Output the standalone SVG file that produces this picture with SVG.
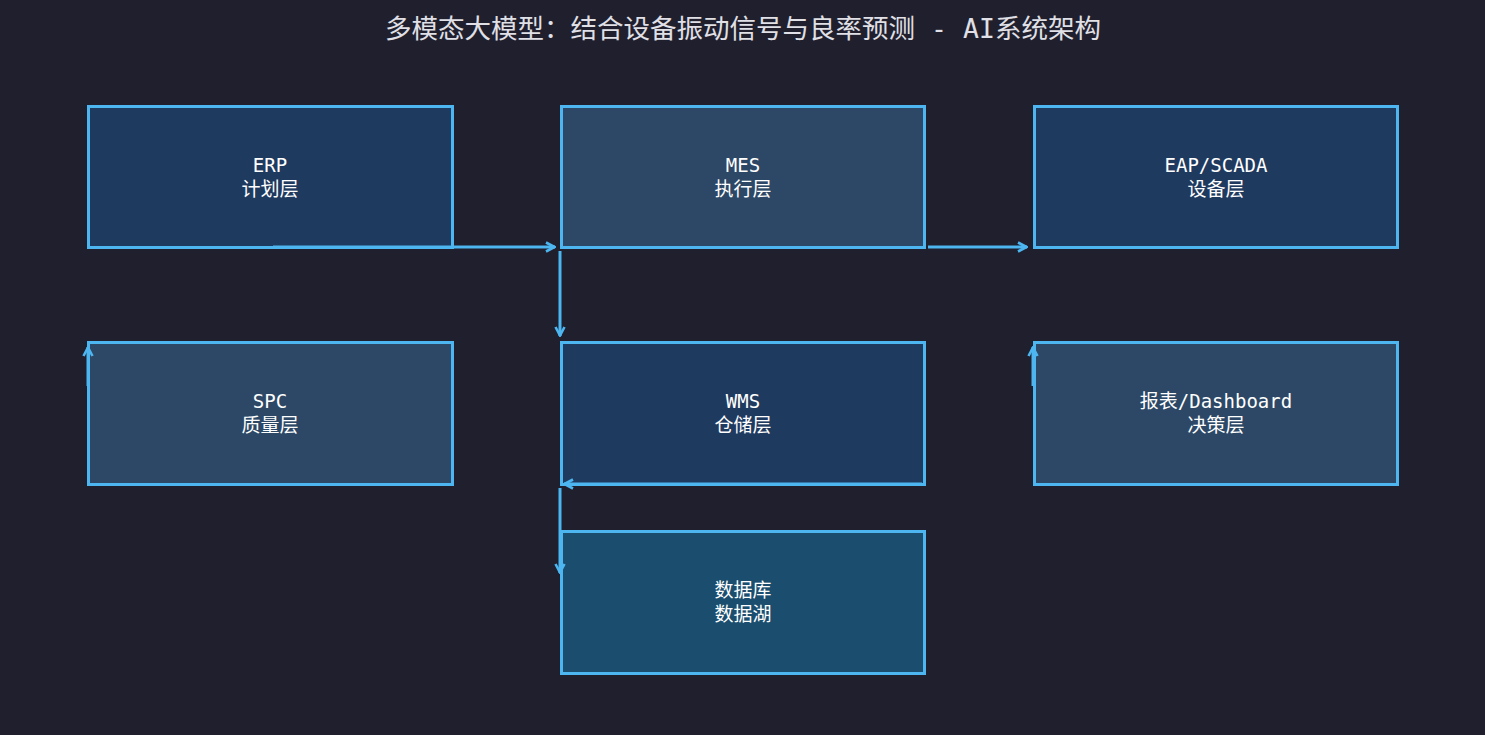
<svg xmlns="http://www.w3.org/2000/svg" width="1485" height="735" viewBox="0 0 1485 735">
<defs>
<marker id="arr" viewBox="0 0 12 12" refX="11" refY="6" markerWidth="12" markerHeight="12" markerUnits="userSpaceOnUse" orient="auto">
<path d="M2,1.5 L10.5,6 L2,10.5" fill="none" stroke="#4db6f0" stroke-width="2.6"/>
</marker>
</defs>
<style>
.box{stroke:#4db6f0;stroke-width:3}
.t{font-family:"DejaVu Sans Mono","Noto Sans CJK SC",monospace;font-size:19px;fill:#ffffff;text-anchor:middle}
.title{font-family:"DejaVu Sans Mono","Noto Sans CJK SC",monospace;font-size:26.5px;fill:#e0e0e6;text-anchor:middle}
.e{fill:none;stroke:#4db6f0;stroke-width:3;marker-end:url(#arr)}
</style>
<rect width="1485" height="735" fill="#1f1f2e"/>
<text class="title" x="743" y="38">多模态大模型：结合设备振动信号与良率预测 - AI系统架构</text>
<g id="erp"><rect class="box" x="88.5" y="106.5" width="364" height="141" fill="#1f3a5f"/><text class="t" x="270" y="172">ERP</text><text class="t" x="270" y="196">计划层</text></g>
<g id="mes"><rect class="box" x="561.5" y="106.5" width="363" height="141" fill="#2c4866"/><text class="t" x="743" y="172">MES</text><text class="t" x="743" y="196">执行层</text></g>
<g id="eap"><rect class="box" x="1034.5" y="106.5" width="363" height="141" fill="#1f3a5f"/><text class="t" x="1216" y="172">EAP/SCADA</text><text class="t" x="1216" y="196">设备层</text></g>
<g id="spc"><rect class="box" x="88.5" y="342.5" width="364" height="142" fill="#2c4866"/><text class="t" x="270" y="408">SPC</text><text class="t" x="270" y="432">质量层</text></g>
<g id="wms"><rect class="box" x="561.5" y="342.5" width="363" height="142" fill="#1f3a5f"/><text class="t" x="743" y="408">WMS</text><text class="t" x="743" y="432">仓储层</text></g>
<g id="dash"><rect class="box" x="1034.5" y="342.5" width="363" height="142" fill="#2c4866"/><text class="t" x="1216" y="408">报表/Dashboard</text><text class="t" x="1216" y="432">决策层</text></g>
<g id="db"><rect class="box" x="561.5" y="531.5" width="363" height="142" fill="#1b4e6e"/><text class="t" x="743" y="597">数据库</text><text class="t" x="743" y="621">数据湖</text></g>
<g id="edges">
<path class="e" d="M273,247 L555,247"/>
<path class="e" d="M928,247 L1027,247"/>
<path class="e" d="M560,251 L560,336"/>
<path class="e" d="M88,386 L88,347"/>
<path class="e" d="M1033,386 L1033,347"/>
<path class="e" d="M922,484 L564,484"/>
<path class="e" d="M560,488 L560,573"/>
</g>
</svg>
